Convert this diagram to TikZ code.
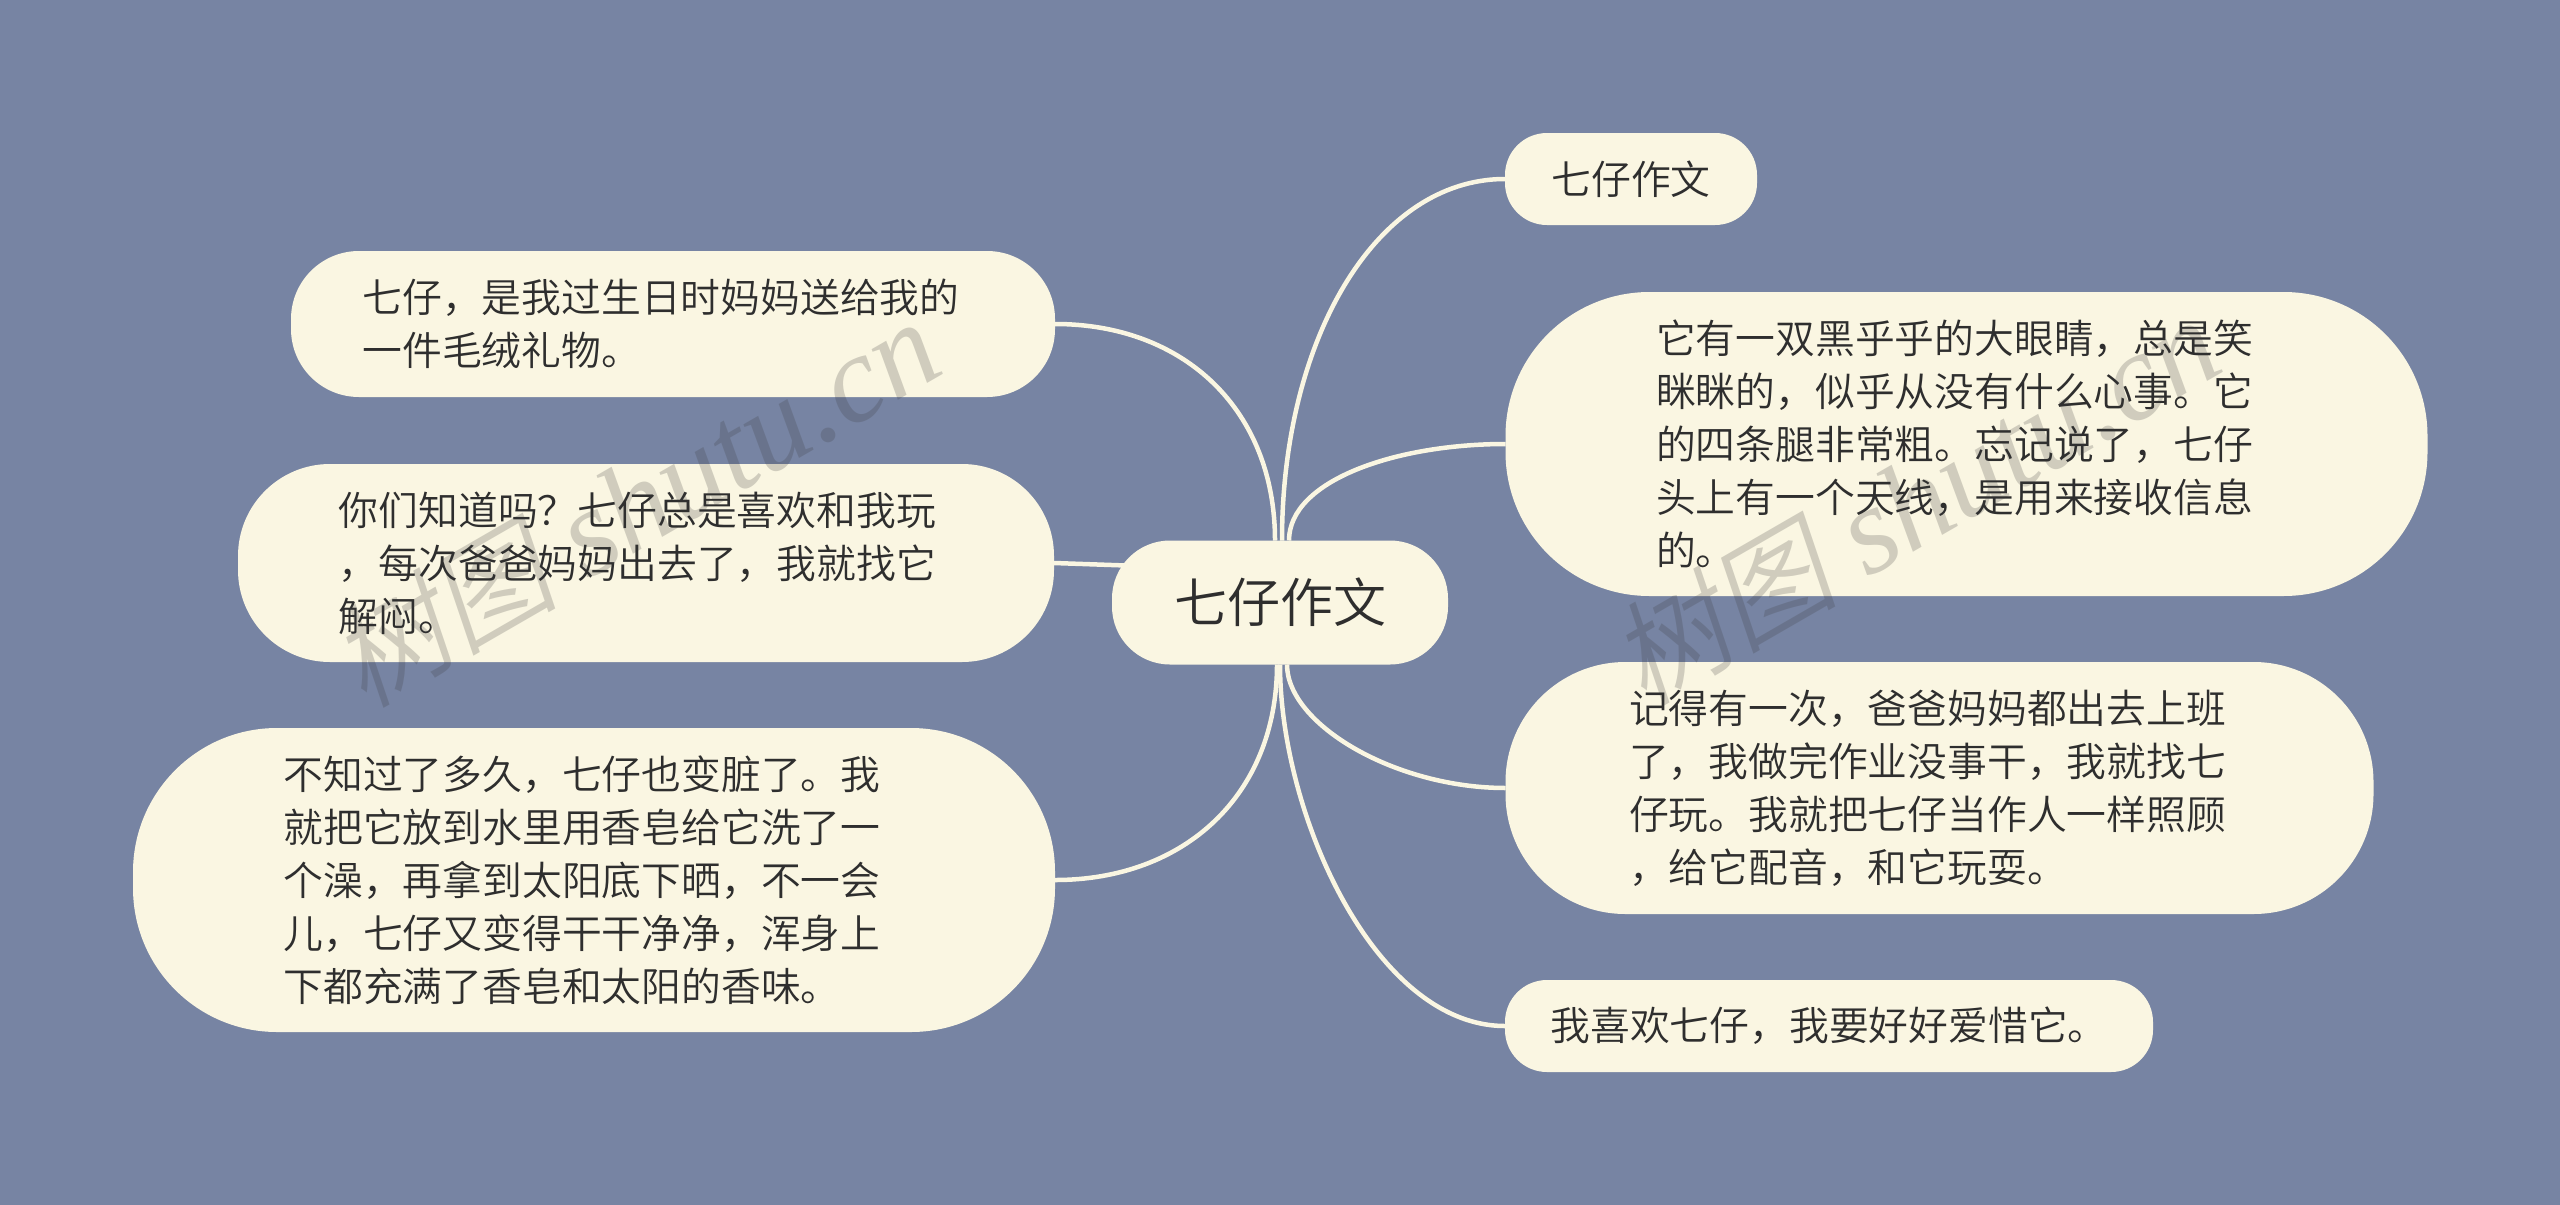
\documentclass[tikz,border=0pt]{standalone}
\usepackage{fontspec}
\setmainfont{Noto Sans CJK SC DemiLight}
\newfontfamily\wmcjk[FakeSlant=0.2]{Noto Sans CJK SC DemiLight}
\newfontfamily\wmlat{Liberation Serif}[ItalicFont=* Italic]
\usetikzlibrary{backgrounds}
\definecolor{bgblue}{HTML}{7784A3}
\definecolor{cream}{HTML}{FAF6E2}
\definecolor{ink}{HTML}{2E2E2E}
\definecolor{wmgrey}{HTML}{3B3B3B}
\tikzset{
  x=0.5pt,y=-0.5pt,
  leaf/.style={fill=cream,inner sep=0pt,outer sep=0pt,text=ink,font=\fontsize{19.9pt}{26.5pt}\selectfont,align=left},
  rootnode/.style={leaf,font=\fontsize{26.5pt}{32pt}\selectfont,align=center},
  link/.style={draw=cream,line width=2.25pt},
  wm/.style={text=wmgrey,opacity=0.22,rotate=30,anchor=west,font=\fontsize{62pt}{64pt}\selectfont,inner sep=0pt}
}
\newcommand{\wmtext}{{\wmcjk\fontsize{57pt}{64pt}\selectfont 树图}\hspace{15pt}{\wmlat\itshape shutu.cn}}
\begin{document}
\begin{tikzpicture}
\useasboundingbox (0,0) rectangle (2560,1205);
\node[rootnode,minimum width=168pt,minimum height=62pt,rounded corners=29pt] (root) at (1280,602.5) {七仔作文};
\node[leaf,minimum width=126pt,minimum height=46pt,rounded corners=21pt] (r1) at (1631,179) {七仔作文};
\node[leaf,minimum width=461pt,minimum height=152pt,rounded corners=72pt,text width=310.5pt] (r2) at (1966.5,444) {它有一双黑乎乎的大眼睛，总是笑\\眯眯的，似乎从没有什么心事。它\\的四条腿非常粗。忘记说了，七仔\\头上有一个天线，是用来接收信息\\的。};
\node[leaf,minimum width=434pt,minimum height=126pt,rounded corners=60pt,text width=310.5pt] (r3) at (1939.5,788) {记得有一次，爸爸妈妈都出去上班\\了，我做完作业没事干，我就找七\\仔玩。我就把七仔当作人一样照顾\\，给它配音，和它玩耍。};
\node[leaf,minimum width=324pt,minimum height=46pt,rounded corners=21pt] (r4) at (1829,1026) {我喜欢七仔，我要好好爱惜它。};
\node[leaf,minimum width=382pt,minimum height=73pt,rounded corners=34pt,text width=310.5pt] (l1) at (673,324) {七仔，是我过生日时妈妈送给我的\\一件毛绒礼物。};
\node[leaf,minimum width=408pt,minimum height=99pt,rounded corners=46pt,text width=307.2pt] (l2) at (646,563) {你们知道吗？七仔总是喜欢和我玩\\，每次爸爸妈妈出去了，我就找它\\解闷。};
\node[leaf,minimum width=461pt,minimum height=152pt,rounded corners=72pt,text width=310.5pt] (l3) at (594,880) {不知过了多久，七仔也变脏了。我\\就把它放到水里用香皂给它洗了一\\个澡，再拿到太阳底下晒，不一会\\儿，七仔又变得干干净净，浑身上\\下都充满了香皂和太阳的香味。};
\begin{scope}[on background layer]
\fill[bgblue] (0,0) rectangle (2560,1205);
\draw[link] ([xshift=1pt]root.north) .. controls +(0,-200) and +(-130,0) .. (r1.west);
\draw[link] ([xshift=4.5pt]root.north) .. controls +(0,-60) and +(-110,0) .. (r2.west);
\draw[link] ([xshift=3.5pt]root.south) .. controls +(0,60) and +(-110,0) .. (r3.west);
\draw[link] (root.south) .. controls +(0,150) and +(-130,0) .. (r4.west);
\draw[link] ([xshift=-2.5pt]root.north) .. controls +(0,-130) and +(130,0)  .. (l1.east);
\draw[link] (l2.east) -- ([xshift=7pt,yshift=18.5pt]root.west);
\draw[link] ([xshift=-1.5pt]root.south) .. controls +(0,130) and +(130,0) .. (l3.east);
\end{scope}
\node[wm] (w1) at (342,672) {\wmtext};
\node[wm] (w2) at (1622,670) {\wmtext};
\end{tikzpicture}
\end{document}
